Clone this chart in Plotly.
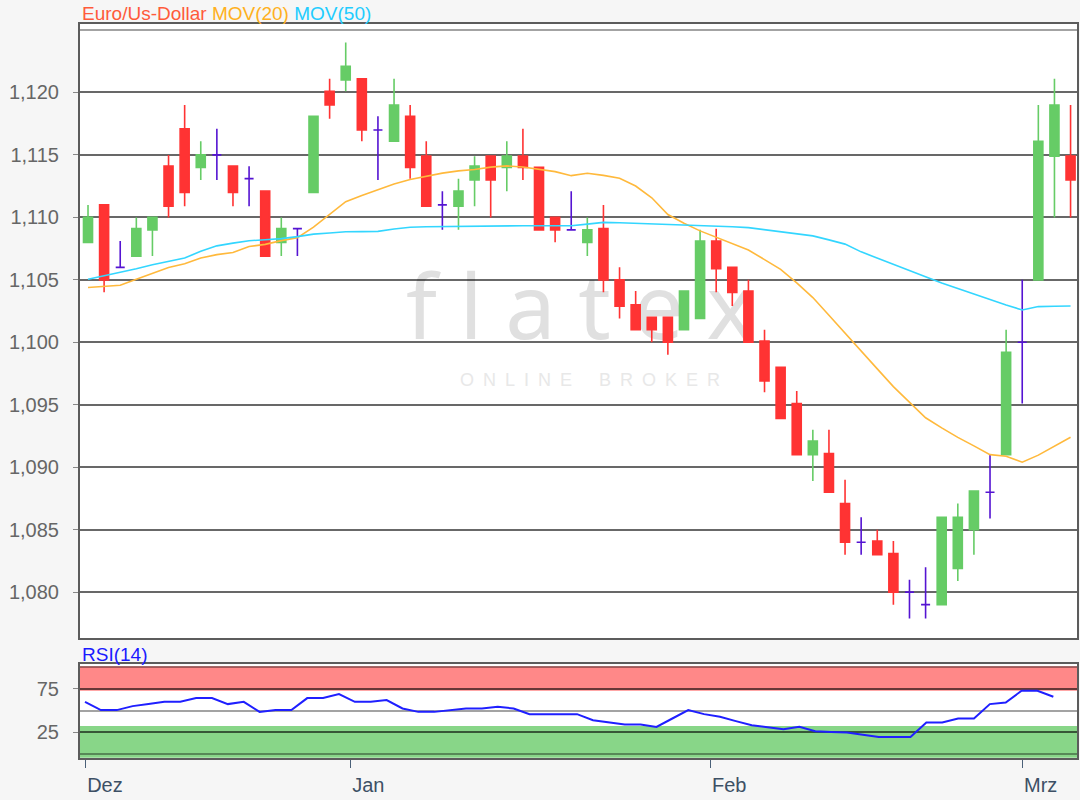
import plotly.graph_objects as go

# ---------------- data ----------------
opens = [1.1080, 1.1110, 1.1060, 1.1069, 1.1090, 1.1141, 1.1171, 1.1140, 1.1150, 1.1141,
         1.1131, 1.1121, 1.1080, 1.1091, 1.1120, 1.1201, 1.1210, 1.1211, 1.1170, 1.1161,
         1.1181, 1.1149, 1.1110, 1.1109, 1.1130, 1.1149, 1.1140, 1.1149, 1.1140, 1.1100,
         1.1090, 1.1080, 1.1091, 1.1050, 1.1030, 1.1020, 1.1020, 1.1010, 1.1019, 1.1081,
         1.1060, 1.1041, 1.1001, 1.0980, 1.0951, 1.0910, 1.0911, 1.0871, 1.0840, 1.0841,
         1.0831, 1.0800, 1.0790, 1.0790, 1.0819, 1.0850, 1.0880, 1.0910, 1.1000, 1.1050,
         1.1149, 1.1149]
highs = [1.1110, 1.1110, 1.1081, 1.1100, 1.1100, 1.1150, 1.1190, 1.1161, 1.1171, 1.1141,
         1.1141, 1.1121, 1.1100, 1.1091, 1.1181, 1.1211, 1.1240, 1.1211, 1.1181, 1.1211,
         1.1190, 1.1161, 1.1121, 1.1131, 1.1149, 1.1149, 1.1161, 1.1171, 1.1140, 1.1100,
         1.1121, 1.1100, 1.1110, 1.1060, 1.1041, 1.1020, 1.1020, 1.1041, 1.1090, 1.1091,
         1.1060, 1.1050, 1.1010, 1.0980, 1.0961, 1.0930, 1.0930, 1.0890, 1.0860, 1.0850,
         1.0841, 1.0810, 1.0820, 1.0860, 1.0871, 1.0881, 1.0910, 1.1010, 1.1050, 1.1190,
         1.1211, 1.1190]
lows = [1.1080, 1.1040, 1.1060, 1.1069, 1.1069, 1.1100, 1.1109, 1.1130, 1.1130, 1.1109,
        1.1109, 1.1069, 1.1069, 1.1069, 1.1120, 1.1179, 1.1201, 1.1161, 1.1130, 1.1161,
        1.1131, 1.1109, 1.1090, 1.1090, 1.1109, 1.1100, 1.1121, 1.1130, 1.1090, 1.1080,
        1.1090, 1.1069, 1.1040, 1.1019, 1.1010, 1.1000, 1.0990, 1.1010, 1.1019, 1.1040,
        1.1029, 1.1000, 1.0960, 1.0939, 1.0910, 1.0889, 1.0880, 1.0830, 1.0830, 1.0830,
        1.0790, 1.0779, 1.0779, 1.0790, 1.0809, 1.0830, 1.0859, 1.0910, 1.0951, 1.1050,
        1.1100, 1.1100]
closes = [1.1100, 1.1050, 1.1060, 1.1091, 1.1100, 1.1109, 1.1120, 1.1150, 1.1150, 1.1120,
          1.1131, 1.1069, 1.1091, 1.1091, 1.1181, 1.1190, 1.1221, 1.1170, 1.1170, 1.1190,
          1.1140, 1.1109, 1.1110, 1.1121, 1.1141, 1.1130, 1.1149, 1.1140, 1.1090, 1.1090,
          1.1090, 1.1090, 1.1050, 1.1029, 1.1010, 1.1010, 1.1000, 1.1041, 1.1081, 1.1059,
          1.1040, 1.1000, 1.0969, 1.0939, 1.0910, 1.0921, 1.0880, 1.0840, 1.0840, 1.0830,
          1.0800, 1.0800, 1.0790, 1.0860, 1.0860, 1.0881, 1.0880, 1.0992, 1.1000, 1.1161,
          1.1190, 1.1130]
mov20 = [1.10439, 1.10447, 1.10457, 1.10505, 1.10552, 1.10599, 1.10629, 1.10675, 1.10702, 1.10719,
         1.10767, 1.10784, 1.10814, 1.10838, 1.10922, 1.11025, 1.11126, 1.11176, 1.11222, 1.11268,
         1.11303, 1.11329, 1.11354, 1.11372, 1.11383, 1.11402, 1.11412, 1.11403, 1.11383, 1.11366,
         1.11334, 1.11353, 1.11336, 1.11313, 1.11251, 1.11157, 1.11023, 1.10953, 1.10892, 1.10843,
         1.10791, 1.10739, 1.10662, 1.10584, 1.10475, 1.10358, 1.10216, 1.10072, 1.09923, 1.09787,
         1.09645, 1.09522, 1.09396, 1.09315, 1.09239, 1.09171, 1.09101, 1.09088, 1.09040, 1.09097,
         1.09170, 1.09240]
mov50 = [1.10505, 1.10531, 1.10559, 1.10589, 1.10621, 1.10645, 1.10675, 1.10728, 1.10772, 1.10794,
         1.10813, 1.10821, 1.10830, 1.10846, 1.10866, 1.10875, 1.10885, 1.10886, 1.10888, 1.10907,
         1.10921, 1.10925, 1.10927, 1.10930, 1.10933, 1.10933, 1.10933, 1.10933, 1.10933, 1.10933,
         1.10933, 1.10946, 1.10960, 1.10957, 1.10953, 1.10950, 1.10946, 1.10941, 1.10936, 1.10930,
         1.10925, 1.10918, 1.10901, 1.10885, 1.10868, 1.10852, 1.10820, 1.10786, 1.10724, 1.10674,
         1.10624, 1.10572, 1.10520, 1.10475, 1.10430, 1.10385, 1.10339, 1.10298, 1.10259, 1.10286,
         1.10289, 1.10291]
rsi14 = [60.1, 50.6, 50.6, 55.2, 57.5, 60.1, 60.1, 64.4, 64.4, 57.5,
         60.1, 48.6, 50.6, 50.6, 64.4, 64.4, 69.0, 60.1, 60.1, 62.1,
         52.5, 48.6, 48.6, 50.6, 52.5, 52.5, 54.4, 52.5, 46.0, 46.0,
         46.0, 46.0, 39.1, 36.5, 34.1, 34.1, 31.4, 41.0, 50.6, 46.0,
         42.9, 38.0, 33.3, 31.0, 28.7, 31.4, 26.4, 25.5, 24.9, 22.5,
         19.9, 19.9, 19.9, 36.4, 36.4, 41.0, 41.0, 57.5, 59.4, 72.8,
         72.8, 65.9]
month_labels = ["Dez", "Jan", "Feb", "Mrz"]
month_pos = [0.04, 16.74, 39.4, 59.06]
price_ticks = [1.080, 1.085, 1.090, 1.095, 1.100, 1.105, 1.110, 1.115, 1.120]
price_ticktext = ["1,080", "1,085", "1,090", "1,095", "1,100", "1,105", "1,110", "1,115", "1,120"]
rsi_ticks = [25, 75]
rsi_ticktext = ["25", "75"]
rsi_overbought = [72.8, 101.0]
rsi_oversold = [-4.0, 32.4]

# ---------------- styling ----------------
GREEN = "#66cc66"
RED = "#ff3333"
DOJI = "#5514d2"
GRID = "rgba(0,0,0,0.36)"
FRAME = "#5c5c5c"
FONT = "Liberation Sans, Arial, sans-serif"

idx = list(range(len(closes)))
groups = {
    "up": ([i for i in idx if closes[i] > opens[i]], GREEN),
    "down": ([i for i in idx if closes[i] < opens[i]], RED),
    "doji": ([i for i in idx if closes[i] == opens[i]], DOJI),
}

fig = go.Figure()
for name, (ids, col) in groups.items():
    fig.add_trace(go.Candlestick(
        x=ids,
        open=[opens[i] for i in ids], high=[highs[i] for i in ids],
        low=[lows[i] for i in ids], close=[closes[i] for i in ids],
        increasing=dict(line=dict(color=col, width=1.6), fillcolor=col),
        decreasing=dict(line=dict(color=col, width=1.6), fillcolor=col),
        whiskerwidth=0, name=name, showlegend=False, hoverinfo="skip",
        xaxis="x", yaxis="y"))

fig.add_trace(go.Scatter(x=idx, y=mov20, mode="lines", line=dict(color="#ffb93c", width=1.6),
                         xaxis="x", yaxis="y", showlegend=False, hoverinfo="skip"))
fig.add_trace(go.Scatter(x=idx, y=mov50, mode="lines", line=dict(color="#33d6ff", width=1.6),
                         xaxis="x", yaxis="y", showlegend=False, hoverinfo="skip"))
fig.add_trace(go.Scatter(x=idx, y=rsi14, mode="lines", line=dict(color="#1f1fff", width=2),
                         xaxis="x2", yaxis="y2", showlegend=False, hoverinfo="skip"))

H_PLOT_TOP, H_PLOT_BOT = 24, 758
def py(p):
    return (H_PLOT_BOT - p) / (H_PLOT_BOT - H_PLOT_TOP)
def px(p):
    return (p - 80) / 997

fig.update_layout(
    width=1080, height=800,
    paper_bgcolor="#f6f6f6", plot_bgcolor="white",
    margin=dict(l=80, r=3, t=H_PLOT_TOP, b=800 - H_PLOT_BOT, pad=0, autoexpand=False),
    boxgap=0.2, showlegend=False,
    font=dict(family=FONT, size=20, color="#666666"),
    xaxis=dict(domain=[0, 1], anchor="y", range=[-0.497, 61.40], automargin=False,
               showgrid=False, showticklabels=False, ticks="", zeroline=False,
               showline=True, mirror=True, linecolor=FRAME, linewidth=2,
               rangeslider=dict(visible=False)),
    yaxis=dict(domain=[py(638), 1], anchor="x", range=[1.07633, 1.12548], automargin=False,
               tickvals=price_ticks, ticktext=price_ticktext,
               ticks="outside", ticklen=5, tickcolor="#888888", ticklabelstandoff=10,
               showgrid=True, gridcolor=GRID, gridwidth=1.5,
               minor=dict(tick0=1.080, dtick=0.005, showgrid=True, gridcolor=GRID,
                          gridwidth=1.5, ticks=""),
               zeroline=False, showline=True, mirror=True, linecolor=FRAME, linewidth=2),
    xaxis2=dict(domain=[0, 1], anchor="y2", range=[-0.315, 62.49], automargin=False,
                tickvals=month_pos, ticktext=month_labels,
                ticks="outside", ticklen=8, tickcolor="#4a6078",
                tickfont=dict(color="#3d5065", size=20),
                ticklabelposition="outside right", ticklabelstandoff=8,
                showgrid=False, zeroline=False,
                showline=True, mirror=True, linecolor=FRAME, linewidth=2),
    yaxis2=dict(domain=[0, py(664.3)], anchor="x2", range=[-4.25, 103.1], automargin=False,
                tickvals=rsi_ticks, ticktext=rsi_ticktext,
                ticks="outside", ticklen=5, tickcolor="#888888", ticklabelstandoff=10,
                showgrid=True, gridcolor=GRID, gridwidth=1.5,
                minor=dict(tick0=0, dtick=25, showgrid=True, gridcolor=GRID,
                           gridwidth=1.5, ticks=""),
                zeroline=False, showline=True, mirror=True, linecolor=FRAME, linewidth=2),
)

# RSI zones (below gridlines)
fig.add_shape(type="rect", xref="x2 domain", yref="y2", x0=0, x1=1,
              y0=rsi_overbought[0], y1=rsi_overbought[1],
              fillcolor="#ff8888", line=dict(width=0), layer="below")
fig.add_shape(type="rect", xref="x2 domain", yref="y2", x0=0, x1=1,
              y0=rsi_oversold[0], y1=rsi_oversold[1],
              fillcolor="#88d688", line=dict(width=0), layer="below")

# watermark (below traces)
sp = "\u2005"
fig.add_shape(type="rect", xref="paper", yref="paper",
              x0=px(380), x1=px(780), y0=py(348), y1=py(272),
              fillcolor="rgba(0,0,0,0)", line=dict(width=0), layer="below",
              label=dict(text=sp.join("flatex"), textposition="middle center",
                         font=dict(family="Noto Sans, sans-serif", size=90, color="#e0e0e0")))
en = "\u2002"
fig.add_shape(type="rect", xref="paper", yref="paper",
              x0=px(420), x1=px(760), y0=py(392), y1=py(364),
              fillcolor="rgba(0,0,0,0)", line=dict(width=0), layer="below",
              label=dict(text=en.join("ONLINE") + en * 3 + en.join("BROKER"),
                         textposition="middle center",
                         font=dict(family=FONT, size=18, color="#e8e8e8")))

fig.add_annotation(xref="paper", yref="paper", x=0, y=py(13), xanchor="left", yanchor="middle",
                   showarrow=False, font=dict(family=FONT, size=19),
                   text='<span style="color:#ff5a3a">Euro/Us-Dollar</span> '
                        '<span style="color:#ffb020">MOV(20)</span> '
                        '<span style="color:#22ccff">MOV(50)</span>')
fig.add_annotation(xref="paper", yref="paper", x=0, y=py(654), xanchor="left", yanchor="middle",
                   showarrow=False, font=dict(family=FONT, size=19, color="#1a1aff"),
                   text="RSI(14)")

fig.write_html("out.html",
               config={"displayModeBar": False},
               post_script="document.body.style.margin='0px';"
                           "document.body.style.background='#f6f6f6';")
